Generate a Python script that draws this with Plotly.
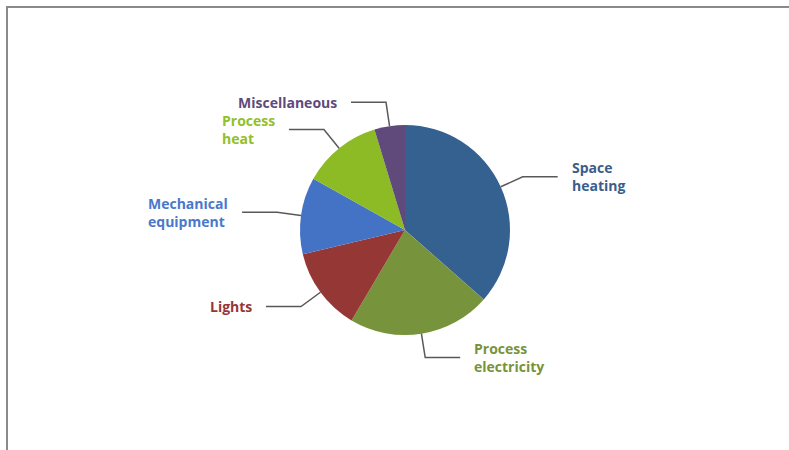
import math
import plotly.graph_objects as go

categories = ["Space heating", "Process electricity", "Lights",
              "Mechanical equipment", "Process heat", "Miscellaneous"]
values = [36.5, 22.0, 12.8, 11.8, 12.2, 4.7]
label_texts = ["Space<br>heating", "Process<br>electricity", "Lights",
               "Mechanical<br>equipment", "Process<br>heat", "Miscellaneous"]
slice_colors = ["#34618F", "#77933C", "#953735", "#4472C4", "#8DBB25", "#604A7B"]
text_colors = ["#3A5E8C", "#77933C", "#953735", "#4A78CC", "#92C02A", "#604A7B"]

W, H = 789, 450
cx, cy, R = 405, 230, 105

fig = go.Figure(go.Pie(
    labels=categories, values=values, sort=False, direction="clockwise",
    rotation=0, textinfo="none", hoverinfo="label+percent",
    marker=dict(colors=slice_colors, line=dict(width=0)),
    domain=dict(x=[(cx - R) / W, (cx + R) / W], y=[1 - (cy + R) / H, 1 - (cy - R) / H]),
    showlegend=False,
))

def px2paper(x, y):
    return x / W, 1 - y / H

shapes = []
annotations = []
total = sum(values)
cum = 0.0
for cat, v, txt, tc in zip(categories, values, label_texts, text_colors):
    mid = (cum + v / 2) / total * 2 * math.pi
    cum += v
    dx, dy = math.sin(mid), -math.cos(mid)
    x0, y0 = cx + R * dx, cy + R * dy
    x1, y1 = cx + 1.23 * R * dx, cy + 1.23 * R * dy
    side = 1 if dx >= 0 else -1
    x2 = x1 + side * 35
    pts = [px2paper(x0, y0), px2paper(x1, y1), px2paper(x2, y1)]
    path = "M {} {} L {} {} L {} {}".format(pts[0][0], pts[0][1], pts[1][0], pts[1][1], pts[2][0], pts[2][1])
    shapes.append(dict(type="path", xref="paper", yref="paper", path=path,
                       line=dict(color="#595959", width=1.5)))
    ax, ay = px2paper(x2 + side * 12, y1)
    annotations.append(dict(
        x=ax, y=ay, xref="paper", yref="paper", text="<b>" + txt + "</b>",
        showarrow=False, xanchor="left" if side > 0 else "right", yanchor="middle",
        align="left", font=dict(family="Open Sans, sans-serif", size=14, color=tc),
    ))

# outer frame (left and top visible)
shapes.append(dict(type="rect", xref="paper", yref="paper",
                   x0=7 / W, y0=-0.05, x1=1.05, y1=1 - 7 / H,
                   line=dict(color="#8a8a8a", width=2), fillcolor="rgba(0,0,0,0)"))

fig.update_layout(
    width=W, height=H, margin=dict(l=0, r=0, t=0, b=0),
    paper_bgcolor="white", plot_bgcolor="white",
    shapes=shapes, annotations=annotations,
)

fig.write_html("out.html", config={"responsive": False, "displayModeBar": False})

with open("out.html", "r", encoding="utf-8") as f:
    html = f.read()
style = "<style>html,body{margin:0;padding:0;overflow:hidden;}</style>"
if "<head>" in html:
    html = html.replace("<head>", "<head>" + style, 1)
else:
    html = style + html
with open("out.html", "w", encoding="utf-8") as f:
    f.write(html)
